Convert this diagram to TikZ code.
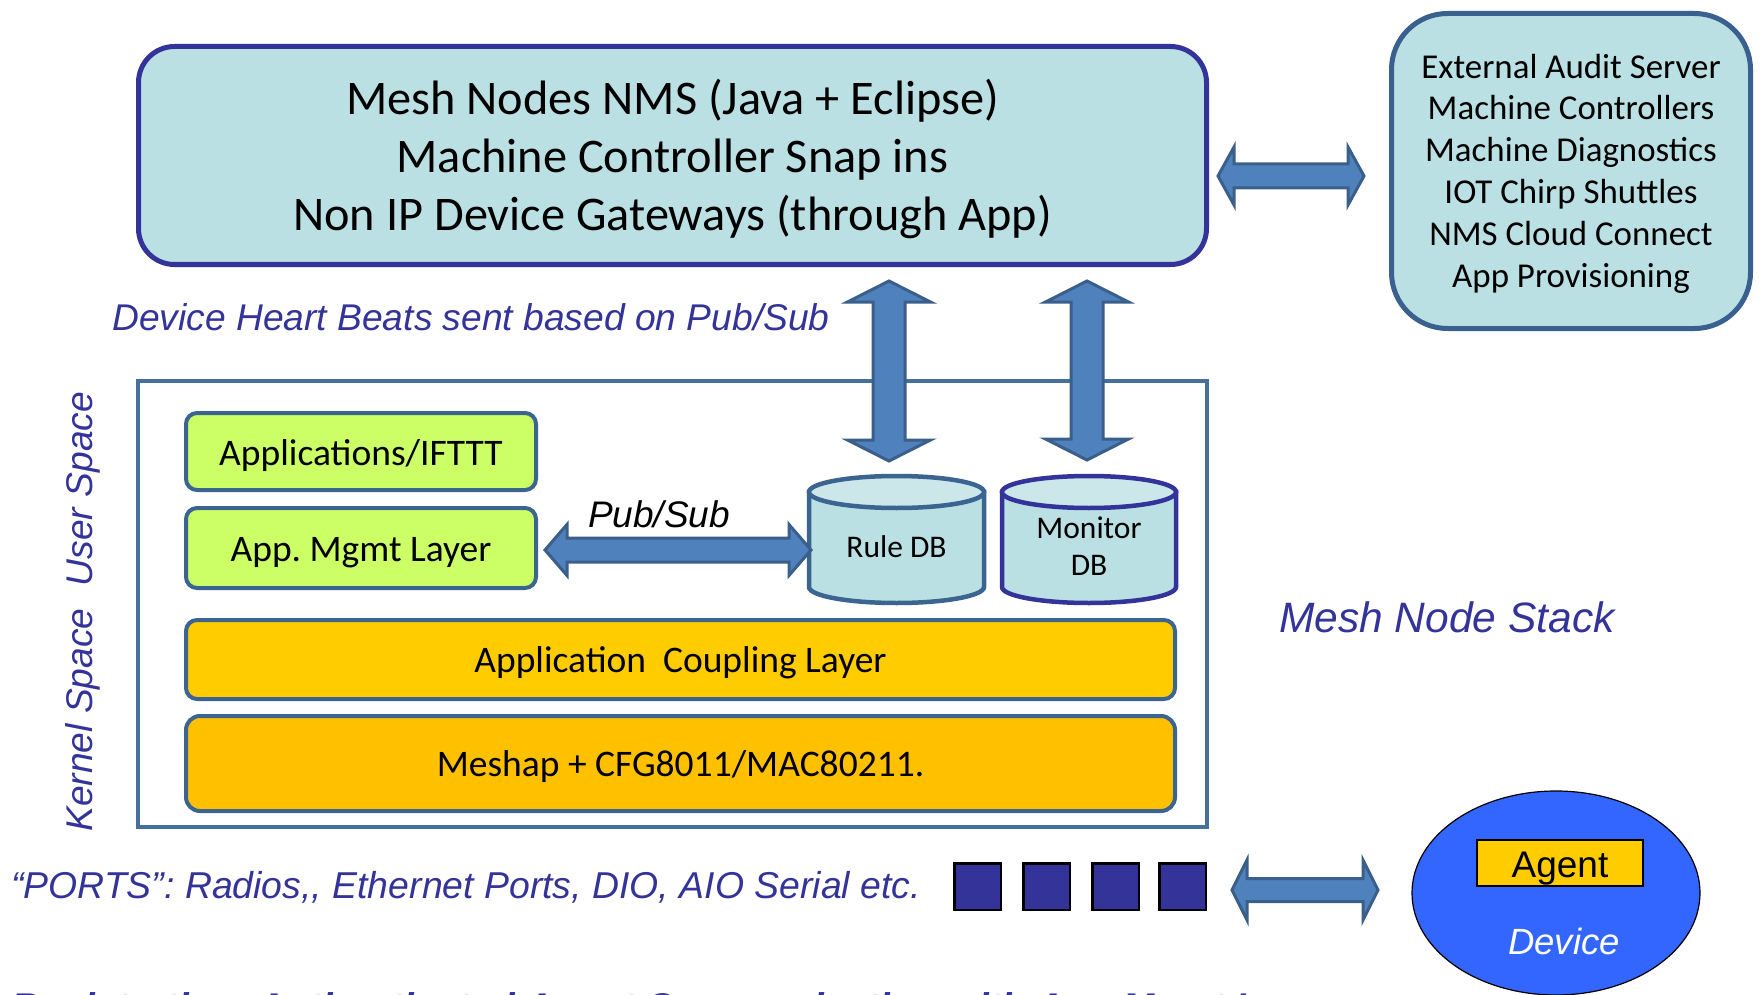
\documentclass[tikz,border=0pt]{standalone}
\usepackage{fontspec}
\setmainfont{Carlito}
\newfontfamily\arialf{Liberation Sans}
\usetikzlibrary{calc,shapes.geometric}

\definecolor{paleblue}{HTML}{BAE0E3}
\definecolor{cyltop}{HTML}{CBE7EA}
\definecolor{nmsedge}{HTML}{333399}
\definecolor{extedge}{HTML}{3A6090}
\definecolor{stackedge}{HTML}{45709C}
\definecolor{layeredge}{HTML}{3C6491}
\definecolor{arrowfill}{HTML}{4F81BD}
\definecolor{arrowedge}{HTML}{3A5F8B}
\definecolor{labelblue}{HTML}{333399}
\definecolor{limegreen}{HTML}{CCFF66}
\definecolor{goldA}{HTML}{FFCC00}
\definecolor{goldB}{HTML}{FFC000}
\definecolor{portblue}{HTML}{333399}
\definecolor{deviceblue}{HTML}{3366FF}

% wide two-headed block arrows between two tip coordinates
% #1,#2 tips; #3 half shaft; #4 half head; #5 head length
\newcommand\hblockarrow[5]{%
  \draw[blockarrow] (#1) -- ($(#1)+(#5,-#4)$) -- ($(#1)+(#5,-#3)$) -- ($(#2)+(-#5,-#3)$)
    -- ($(#2)+(-#5,-#4)$) -- (#2) -- ($(#2)+(-#5,#4)$) -- ($(#2)+(-#5,#3)$)
    -- ($(#1)+(#5,#3)$) -- ($(#1)+(#5,#4)$) -- cycle;}
\newcommand\vblockarrow[5]{%
  \draw[blockarrow] (#1) -- ($(#1)+(-#4,#5)$) -- ($(#1)+(-#3,#5)$) -- ($(#2)+(-#3,-#5)$)
    -- ($(#2)+(-#4,-#5)$) -- (#2) -- ($(#2)+(#4,-#5)$) -- ($(#2)+(#3,-#5)$)
    -- ($(#1)+(#3,#5)$) -- ($(#1)+(#4,#5)$) -- cycle;}

\begin{document}
\frenchspacing
\begin{tikzpicture}[x=1pt,y=-1pt,
  panel/.style={draw=#1, line width=5pt, fill=paleblue, inner sep=0pt},
  layer/.style={draw=layeredge, line width=4pt, rounded corners=11pt, inner sep=0pt,
    text height=26.5pt, text depth=0pt, font=\fontsize{37.5}{44}\selectfont},
  blockarrow/.style={draw=arrowedge, fill=arrowfill, line width=3pt, line join=miter},
  bluelabel/.style={font=\arialf\itshape\fontsize{37.2}{44}\selectfont, text=labelblue, inner sep=0pt},
  dbtext/.style={font=\fontsize{31.5}{37}\selectfont, align=center, inner sep=0pt},
  cylbody/.style={fill=paleblue, line width=4.5pt},
  cyllid/.style={fill=cyltop, line width=4.5pt},
  port/.style={draw=black, fill=portblue, line width=2.5pt, minimum size=46.5pt, inner sep=0pt},
]
\useasboundingbox (0,0) rectangle (1762,995);

% management side
\node[panel=nmsedge, rounded corners=36pt, minimum width=1068pt, minimum height=218pt,
  align=center, text height=149.2pt, text depth=0pt,
  font=\fontsize{48.3}{58}\selectfont] (nms) at (672.5,155.5)
  {Mesh Nodes NMS (Java + Eclipse)\\Machine Controller Snap ins\\Non IP Device Gateways (through App)};
\node[panel=extedge, rounded corners=56pt, minimum width=359pt, minimum height=315pt,
  align=center, text height=232.2pt, text depth=0pt,
  font=\fontsize{34.9}{41.8}\selectfont] (ext) at (1571,171)
  {External Audit Server\\Machine Controllers\\Machine Diagnostics\\IOT Chirp Shuttles\\NMS Cloud Connect\\App Provisioning};

\coordinate (nmsR) at (1218,176);
\coordinate (extL) at (1364,176);
\hblockarrow{nmsR}{extL}{12}{29}{16}

\node[bluelabel, anchor=base west] (hb) at (112,330) {Device Heart Beats sent based on Pub/Sub};

% node stack
\node[draw=stackedge, line width=4pt, fill=white, minimum width=1069pt, minimum height=446pt,
  inner sep=0pt] (stack) at (672.5,604) {};

\node[layer, fill=limegreen, minimum width=350pt, minimum height=77pt, text height=27.5pt] (apps) at (361,451.5) {Applications/IFTTT};
\node[layer, fill=limegreen, minimum width=350pt, minimum height=80pt, text height=27pt] (mgmt) at (361,548) {App. Mgmt Layer};
\node[layer, fill=goldA, minimum width=989pt, minimum height=79pt] (acl) at (680.5,659.5) {Application\ \ Coupling Layer};
\node[layer, fill=goldB, rounded corners=14pt, minimum width=989pt, minimum height=95pt, text height=25pt] (meshap) at (680.5,763.5) {Meshap + CFG8011/MAC80211.};

% databases
\draw[cylbody, draw=layeredge] (809,492) -- (809,587)
  arc[start angle=180, end angle=0, x radius=87.5, y radius=16] -- (984,492) -- cycle;
\draw[cyllid, draw=layeredge] (896.5,492) ellipse[x radius=87.5, y radius=16];
\draw[cylbody, draw=nmsedge] (1002,492) -- (1002,587)
  arc[start angle=180, end angle=0, x radius=87, y radius=16] -- (1176,492) -- cycle;
\draw[cyllid, draw=nmsedge] (1089,492) ellipse[x radius=87, y radius=16];
\node[dbtext] (ruledb) at (896.5,547) {Rule DB};
\node[dbtext] (mondb) at (1089,546.5) {Monitor\\DB};

\node[anchor=base, font=\arialf\itshape\fontsize{37}{44}\selectfont, inner sep=0pt] (ps) at (659,527) {Pub/Sub};
\coordinate (mgmtR) at (545,550);
\coordinate (ruleL) at (811,550);
\hblockarrow{mgmtR}{ruleL}{12}{25.5}{22}

\coordinate (nmsB1) at (889,281);
\coordinate (ruleT) at (889,461);
\coordinate (nmsB2) at (1087,281);
\coordinate (monT) at (1087,460);
\vblockarrow{nmsB1}{ruleT}{16}{41.5}{21}
\vblockarrow{nmsB2}{monT}{16}{41.5}{21}

% side labels
\node[bluelabel, rotate=90, anchor=base] (us) at (92,489) {User Space};
\node[bluelabel, rotate=90, anchor=base] (ks) at (92,720) {Kernel Space};
\node[bluelabel, anchor=base west, font=\arialf\itshape\fontsize{42.5}{50}\selectfont] (mns) at (1279,632) {Mesh Node Stack};

% ports and device
\node[bluelabel, anchor=base west, font=\arialf\itshape\fontsize{37.4}{44}\selectfont] (ports) at (11,898) {“PORTS”: Radios,, Ethernet Ports, DIO, AIO Serial etc.};
\node[port] (p1) at (977.5,886.5) {};
\node[port] (p2) at (1046.5,886.5) {};
\node[port] (p3) at (1115.5,886.5) {};
\node[port] (p4) at (1182.5,886.5) {};

\node[ellipse, draw=black, fill=deviceblue, line width=1.2pt, minimum width=288pt,
  minimum height=204pt, inner sep=0pt] (device) at (1556,893) {};
\node[draw=black, fill=goldA, line width=2pt, minimum width=166pt, minimum height=46pt,
  inner sep=0pt, text height=28pt, text depth=0pt,
  font=\arialf\fontsize{37}{44}\selectfont] (agent) at (1560,863) {Agent};
\node[anchor=base, inner sep=0pt, font=\arialf\itshape\fontsize{36.5}{44}\selectfont, text=white] (devlbl) at (1564,954) {Device};

\coordinate (portsR) at (1232,890);
\coordinate (devL) at (1378,890);
\hblockarrow{portsR}{devL}{11.5}{30}{15}

\node[anchor=base west, inner sep=0pt, text=labelblue,
  font=\arialf\bfseries\itshape\fontsize{38.6}{46}\selectfont] (footer) at (11,1020)
  {Registration, Authenticated Agent Communication with App Mgmt Layer};
\end{tikzpicture}
\end{document}
